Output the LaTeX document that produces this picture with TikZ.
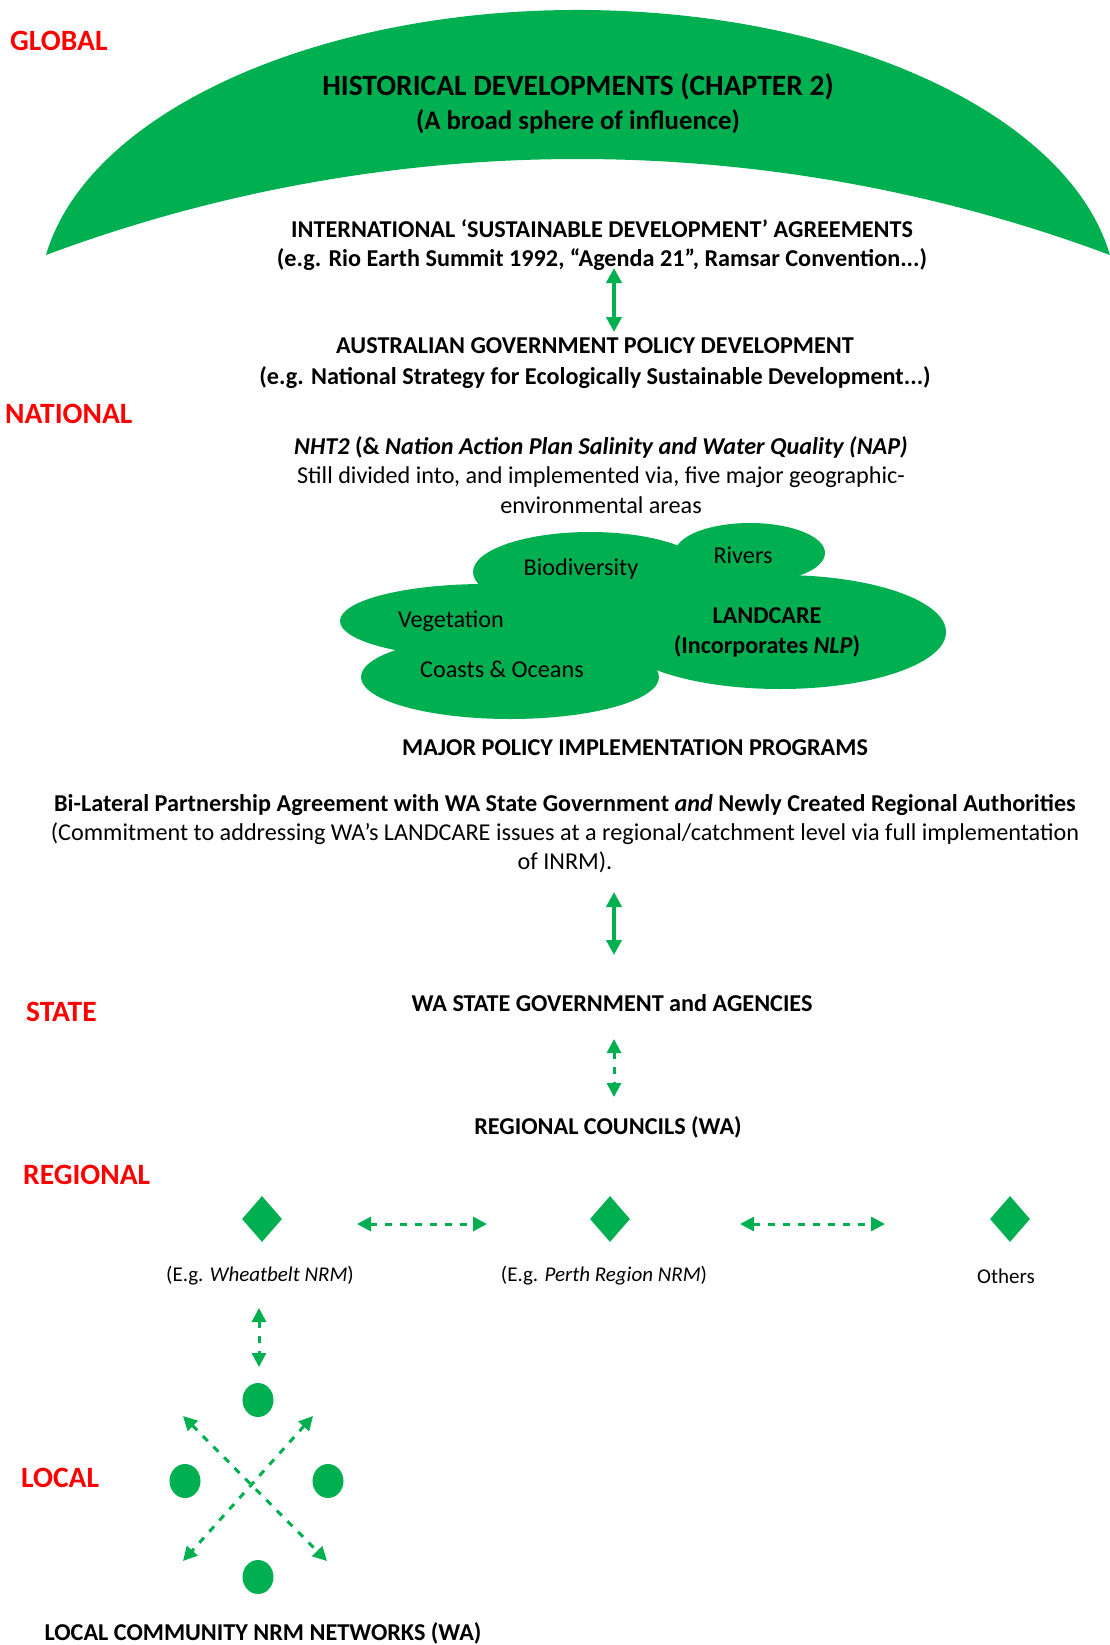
\documentclass[tikz,border=0pt]{standalone}
\usepackage{fontspec}
\setmainfont{Carlito}
\usetikzlibrary{arrows.meta,shapes.geometric}
\definecolor{leafgreen}{HTML}{00B050}
\definecolor{tierred}{HTML}{FF0000}

\begin{document}
\begin{tikzpicture}[x=1pt,y=1pt,
  tier/.style={anchor=west, text=tierred, inner sep=0, font=\fontsize{29.5}{34}\selectfont\bfseries},
  body/.style={align=center, inner sep=0, font=\fontsize{24.2}{29}\selectfont},
  head/.style={align=center, inner sep=0, font=\fontsize{24.2}{29}\selectfont\bfseries},
  small/.style={align=center, inner sep=0, font=\fontsize{21}{25}\selectfont},
  blob/.style={ellipse, fill=leafgreen, inner sep=0},
  gem/.style={diamond, fill=leafgreen, inner sep=0, minimum width=40pt, minimum height=46pt},
  dot/.style={ellipse, fill=leafgreen, inner sep=0, minimum width=31pt, minimum height=34pt},
  link/.style={draw=leafgreen, line width=4.3pt,
    {Triangle[length=15pt,width=15pt]}-{Triangle[length=15pt,width=15pt]}},
  dlink/.style={draw=leafgreen, line width=3pt, dash pattern=on 7pt off 8pt,
    {Triangle[length=14pt,width=14pt]}-{Triangle[length=14pt,width=14pt]}},
]
\useasboundingbox (0,0) rectangle (1110,-1645);

% broad sphere of influence: crescent
\fill[leafgreen] (46,-255)
  arc[start angle=171.07, end angle=8.93, x radius=538.5pt, y radius=290pt]
  arc[start angle=69.54, end angle=110.46, radius=1522pt] -- cycle;

% tier labels
\node[tier] (tglobal)   at (10,-41)   {GLOBAL};
\node[tier] (tnational) at (5,-414)   {NATIONAL};
\node[tier] (tstate)    at (26,-1012) {STATE};
\node[tier] (tregional) at (23,-1175) {REGIONAL};
\node[tier] (tlocal)    at (21,-1478) {LOCAL};

% global level
\node[align=center, inner sep=0, font=\fontsize{29.5}{34}\selectfont\bfseries] (hist) at (578,-87)
  {HISTORICAL DEVELOPMENTS (CHAPTER 2)};
\node[align=center, inner sep=0, font=\fontsize{26.8}{32}\selectfont\bfseries] (sphere) at (578,-122)
  {(A broad sphere of influence)};

\node[head] (intl) at (602,-245)
  {INTERNATIONAL `SUSTAINABLE DEVELOPMENT' AGREEMENTS\\
   (e.g. Rio Earth Summit 1992, ``Agenda 21'', Ramsar Convention...)};

% national level
\node[head, font=\fontsize{24.2}{31}\selectfont\bfseries] (aus) at (595,-363)
  {AUSTRALIAN GOVERNMENT POLICY DEVELOPMENT\\
   (e.g. National Strategy for Ecologically Sustainable Development...)};

\node[body, font=\fontsize{24.2}{29.5}\selectfont] (nht) at (601,-475)
  {\textbf{\textit{NHT2}} \textbf{(\&} \textbf{\textit{Nation Action Plan Salinity and Water Quality (NAP)}}\\
   Still divided into, and implemented via, five major geographic-\\
   environmental areas};

% program areas
\node[blob, minimum width=290pt, minimum height=74pt]  (bveg)   at (485,-621) {};
\node[blob, minimum width=298pt, minimum height=84pt]  (bcoast) at (510,-677) {};
\node[blob, minimum width=234pt, minimum height=80pt]  (bbio)   at (590,-572) {};
\node[blob, minimum width=150pt, minimum height=60pt]  (briv)   at (750,-553) {};
\node[blob, minimum width=332pt, minimum height=114pt] (bland)  at (780,-632) {};
\node[blob, minimum width=220pt, minimum height=110pt] (bcore)  at (600,-620) {};
\node[blob, minimum width=80pt,  minimum height=40pt]  (bjoin)  at (700,-585) {};

\node[body] (lbio)   at (581,-569) {Biodiversity};
\node[body] (lriv)   at (743,-555) {Rivers};
\node[body] (lveg)   at (451,-621) {Vegetation};
\node[body] (lcoast) at (502,-669) {Coasts \& Oceans};
\node[head, font=\fontsize{24.2}{30}\selectfont\bfseries] (lland) at (767,-632)
  {LANDCARE\\(Incorporates \textit{NLP})};

\node[head] (major) at (635,-748) {MAJOR POLICY IMPLEMENTATION PROGRAMS};

\node[body] (bilat) at (565,-834)
  {\textbf{Bi-Lateral Partnership Agreement with WA State Government \textit{and} Newly Created Regional Authorities}\\
   (Commitment to addressing WA's LANDCARE issues at a regional/catchment level via full implementation\\
   of INRM).};

% state level
\node[head] (wagov) at (612,-1003) {WA STATE GOVERNMENT and AGENCIES};
\node[head] (regc)  at (608,-1127) {REGIONAL COUNCILS (WA)};

% regional bodies
\node[gem] (gwheat) at (262,-1219) {};
\node[gem] (gperth) at (610,-1219) {};
\node[gem] (gother) at (1010,-1219) {};
\node[small] (lwheat) at (260,-1276) {(E.g. \textit{Wheatbelt NRM})};
\node[small] (lperth) at (604,-1276) {(E.g. \textit{Perth Region NRM})};
\node[small] (lother) at (1006,-1276) {Others};

% local networks
\node[dot] (dtop)    at (258,-1400) {};
\node[dot] (dleft)   at (185,-1481) {};
\node[dot] (dright)  at (328,-1481) {};
\node[dot] (dbottom) at (258,-1577) {};
\node[head] (lnet) at (263,-1633) {LOCAL COMMUNITY NRM NETWORKS (WA)};

% connector ends
\coordinate (a1t) at (614,-268);  \coordinate (a1b) at (614,-332);
\coordinate (a2t) at (614,-892);  \coordinate (a2b) at (614,-955);
\coordinate (a3t) at (614,-1039); \coordinate (a3b) at (614,-1097);
\coordinate (h1l) at (357,-1224); \coordinate (h1r) at (487,-1224);
\coordinate (h2l) at (740,-1224); \coordinate (h2r) at (885,-1224);
\coordinate (v1t) at (259,-1308); \coordinate (v1b) at (259,-1367);
\coordinate (xnw) at (183,-1416); \coordinate (xse) at (327,-1561);
\coordinate (xne) at (313,-1416); \coordinate (xsw) at (183,-1561);

\draw[link]  (a1t) -- (a1b);
\draw[link]  (a2t) -- (a2b);
\draw[dlink] (a3t) -- (a3b);
\draw[dlink] (h1l) -- (h1r);
\draw[dlink] (h2l) -- (h2r);
\draw[dlink] (v1t) -- (v1b);
\draw[dlink] (xnw) -- (xse);
\draw[dlink] (xne) -- (xsw);
\end{tikzpicture}
\end{document}
